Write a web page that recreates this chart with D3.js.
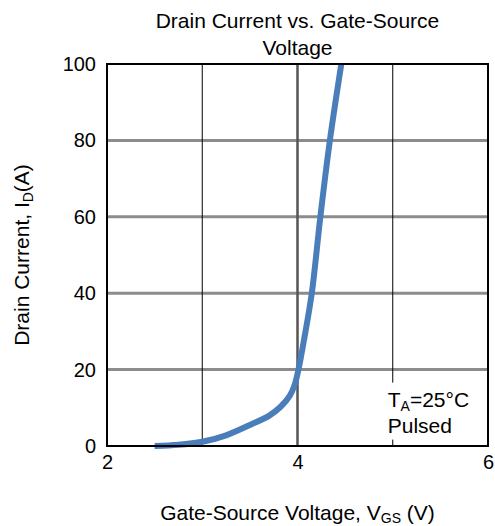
<!DOCTYPE html>
<html>
<head>
<meta charset="utf-8">
<script src="https://cdn.jsdelivr.net/npm/d3@7"></script>
<style>
  body { margin: 0; background: #fff; }
  text { font-family: "Liberation Sans", Arial, sans-serif; fill: #000; }
</style>
</head>
<body>
<div id="chart"></div>
<script>
// values
const vgs = [2.5, 2.75, 3.0, 3.25, 3.5, 3.7, 3.82, 3.92, 3.97, 4.01, 4.07, 4.15, 4.24, 4.34, 4.46];
const id  = [0, 0.3, 1.1, 2.8, 5.5, 7.9, 10.2, 13.2, 16, 20, 28, 40, 60, 80, 100];
const xTicks = [2, 4, 6];
const yTicks = [0, 20, 40, 60, 80, 100];
const xGrid = [3, 4, 5];
const yGrid = [20, 40, 60, 80];

const svgWidth = 495, svgHeight = 526;
const margin = { top: 64, right: 7, bottom: 80, left: 107 };
const width = svgWidth - margin.left - margin.right;
const height = svgHeight - margin.top - margin.bottom;

const data = vgs.map((v, i) => ({ x: v, y: id[i] }));

const svg = d3.select("#chart").append("svg")
  .attr("width", svgWidth).attr("height", svgHeight);
const g = svg.append("g").attr("transform", "translate(" + margin.left + "," + margin.top + ")");

const x = d3.scaleLinear().domain([2, 6]).range([0, width]);
const y = d3.scaleLinear().domain([0, 100]).range([height, 0]);

// horizontal grid, gray and thick
g.selectAll(".hg").data(yGrid).enter().append("line")
  .attr("x1", 0).attr("x2", width)
  .attr("y1", d => y(d)).attr("y2", d => y(d))
  .attr("stroke", "#8c8c8c").attr("stroke-width", 3);

// vertical grid, thin black (4 has a gray halo)
g.selectAll(".vg").data(xGrid).enter().append("line")
  .attr("x1", d => x(d)).attr("x2", d => x(d))
  .attr("y1", 0).attr("y2", height)
  .attr("stroke", d => d === 4 ? "#555" : "#000")
  .attr("stroke-width", d => d === 4 ? 2.5 : 1);

// annotation box (white background hides the gridline)
const ann = g.append("g").attr("transform", "translate(" + (x(5) - 12) + "," + (y(20) + 13) + ")");
ann.append("rect").attr("x", 0).attr("y", 0).attr("width", 98).attr("height", 57).attr("fill", "#fff");
const t1 = ann.append("text").attr("x", 7).attr("y", 24).style("font-size", "21px");
t1.append("tspan").text("T");
t1.append("tspan").attr("dy", 4).style("font-size", "14px").text("A");
t1.append("tspan").attr("dy", -4).text("=25°C");
ann.append("text").attr("x", 7).attr("y", 50).style("font-size", "21px").text("Pulsed");

// curve
const line = d3.line().x(d => x(d.x)).y(d => y(d.y)).curve(d3.curveCatmullRom.alpha(0.5));
g.append("path").datum(data)
  .attr("fill", "none").attr("stroke", "#4a7ebb")
  .attr("stroke-width", 6).attr("stroke-linecap", "butt")
  .attr("stroke-linejoin", "round").attr("d", line);

// frame
g.append("rect").attr("width", width).attr("height", height)
  .attr("fill", "none").attr("stroke", "#000").attr("stroke-width", 2);

// axes (labels only)
const xAxis = d3.axisBottom(x).tickValues(xTicks).tickSize(0).tickPadding(9).tickFormat(d3.format("d"));
const yAxis = d3.axisLeft(y).tickValues(yTicks).tickSize(0).tickPadding(11).tickFormat(d3.format("d"));
const gx = g.append("g").attr("transform", "translate(0," + height + ")").call(xAxis);
const gy = g.append("g").call(yAxis);
[gx, gy].forEach(a => {
  a.select(".domain").remove();
  a.selectAll("text").style("font-size", "20px").style("font-family", "'Liberation Sans', Arial, sans-serif");
});

// title
svg.append("text").attr("x", margin.left + width / 2).attr("y", 28)
  .attr("text-anchor", "middle").style("font-size", "21px").text("Drain Current vs. Gate-Source");
svg.append("text").attr("x", margin.left + width / 2).attr("y", 55)
  .attr("text-anchor", "middle").style("font-size", "21px").text("Voltage");

// x label
const xl = svg.append("text").attr("x", margin.left + width / 2).attr("y", 520)
  .attr("text-anchor", "middle").style("font-size", "21px");
xl.append("tspan").text("Gate-Source Voltage, V");
xl.append("tspan").attr("dy", 3).style("font-size", "14px").text("GS");
xl.append("tspan").attr("dy", -3).text(" (V)");

// y label
const yl = svg.append("text")
  .attr("transform", "translate(29," + (margin.top + height / 2) + ") rotate(-90)")
  .attr("text-anchor", "middle").style("font-size", "21px");
yl.append("tspan").text("Drain Current, I");
yl.append("tspan").attr("dy", 4).style("font-size", "14px").text("D");
yl.append("tspan").attr("dy", -4).text("(A)");
</script>
</body>
</html>
